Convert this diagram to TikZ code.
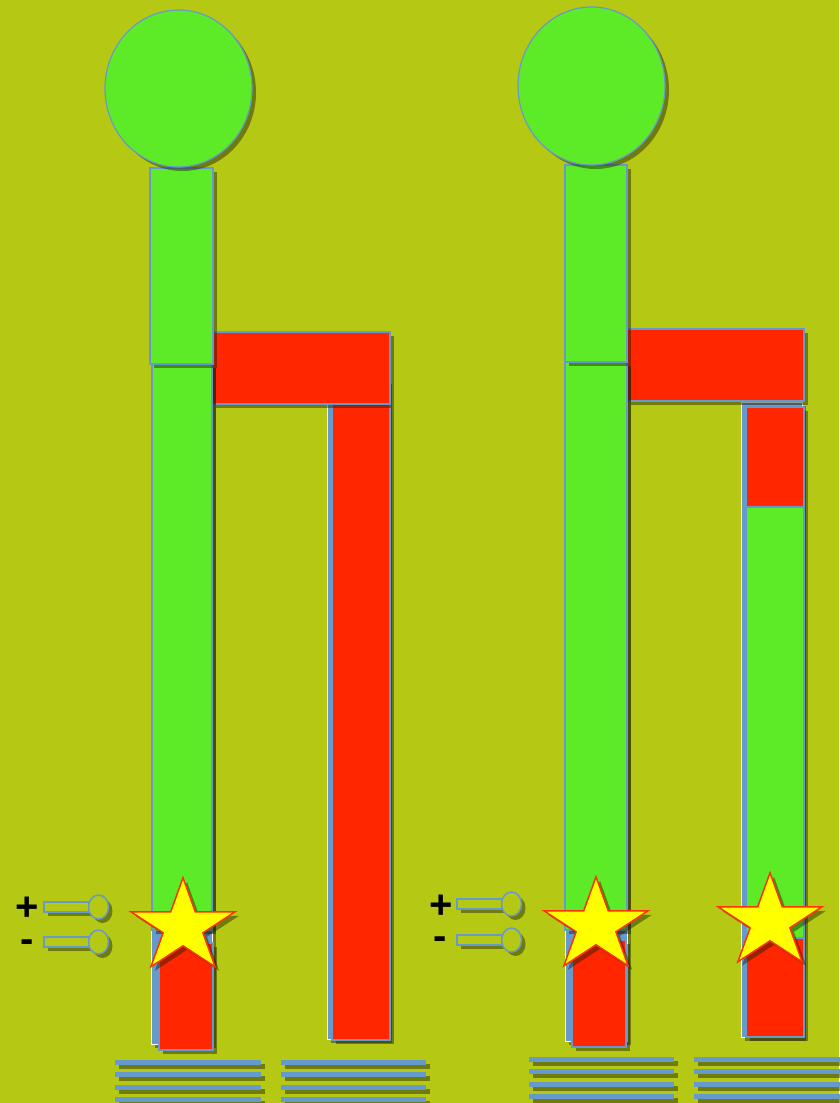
\documentclass[tikz,border=0pt]{standalone}
\usepackage{fontspec}
\setsansfont{Liberation Sans}
\usetikzlibrary{shadows}
\definecolor{bg}{HTML}{B5C914}
\definecolor{gr}{HTML}{5DEB27}
\definecolor{rd}{HTML}{FF2600}
\definecolor{bl}{HTML}{6699CC}
\definecolor{sty}{HTML}{FFFF00}
\definecolor{sto}{HTML}{FF3300}
\tikzset{
  shd/.style={drop shadow={shadow xshift=4pt, shadow yshift=-4pt, opacity=0.45, fill=black!85!bg}},
  grbox/.style={fill=gr, draw=bl, line width=1.2pt, shd},
  rdbox/.style={fill=rd, draw=bl, line width=1.2pt, shd},
  backbox/.style={fill=bl, draw=white, line width=1pt, shd},
  starst/.style={fill=sty, draw=sto, line width=1.5pt, shd},
  keyst/.style={fill=bg, draw=bl, line width=1.5pt, shd},
  barst/.style={fill=bl, draw=none, shd},
  signst/.style={font=\sffamily\bfseries\fontsize{40}{40}\selectfont, text=black, inner sep=0pt, anchor=base}
}
\newcommand\drawstar[2]{\draw[starst,shift={(#1,#2)}] (-90:54.7 and 49.2) -- (-54:20.9 and 18.8) -- (-18:54.7 and 49.2) -- (18:20.9 and 18.8) -- (54:54.7 and 49.2) -- (90:20.9 and 18.8) -- (126:54.7 and 49.2) -- (162:20.9 and 18.8) -- (198:54.7 and 49.2) -- (234:20.9 and 18.8) -- cycle;}
\newcommand\drawkeys[3]{%
  \draw[keyst] (#1,#2-5) rectangle (#1+45,#2+5);
  \draw[keyst] (#1+54.5,#2) ellipse [x radius=10, y radius=12];
  \draw[keyst] (#1,#3-5) rectangle (#1+45,#3+5);
  \draw[keyst] (#1+54.5,#3) ellipse [x radius=10, y radius=12];}
\newcommand\drawlines[3]{%
  \foreach \yy in {0,12.5,25,37.5}{\fill[barst] (#1,#3+\yy-2.5) rectangle (#2,#3+\yy+2.5);}}
\begin{document}
\begin{tikzpicture}[x=1pt,y=-1pt]
\fill[bg] (0,0) rectangle (839,1103);
\useasboundingbox (0,0) rectangle (839,1103);

% ---------- left figure ----------
\draw[backbox] (327,380) rectangle (388,1039);
\draw[rdbox] (332,404) rectangle (390,1040);
\draw[rdbox] (212,332) rectangle (390,404);
\draw[backbox] (151,364) rectangle (212,1044);
\draw[grbox] (152,364) rectangle (212,930);
\draw[rdbox] (159,943) rectangle (213,1050);
\draw[grbox] (150,168) rectangle (213,364);
\draw[grbox] (178.5,88.5) ellipse [x radius=73.5, y radius=78.5];
\drawstar{183}{927}
\drawkeys{44}{907}{942}
\node[signst] (plusL) at (27.5,920) {+};
\node[signst] (minusL) at (27,952) {-};
\drawlines{115}{261}{1062}
\drawlines{281}{426}{1062}

% ---------- right figure ----------
\draw[backbox] (741,402) rectangle (802,1037);
\draw[rdbox] (746,407) rectangle (804,507);
\draw[grbox] (746,507) rectangle (804,938);
\draw[rdbox] (746,938) rectangle (804,1037);
\draw[rdbox] (627,329) rectangle (804,401);
\draw[backbox] (565,362) rectangle (627,1041);
\draw[grbox] (565,362) rectangle (627,930);
\draw[rdbox] (572,940) rectangle (626,1047);
\draw[grbox] (565,165) rectangle (627,362);
\draw[grbox] (591.5,86) ellipse [x radius=73.5, y radius=79];
\drawstar{596}{926}
\drawstar{770}{922}
\drawkeys{457}{904}{940}
\node[signst] (plusR) at (441,918) {+};
\node[signst] (minusR) at (440,949) {-};
\drawlines{529}{674}{1059}
\drawlines{694}{845}{1059}
\end{tikzpicture}
\end{document}
